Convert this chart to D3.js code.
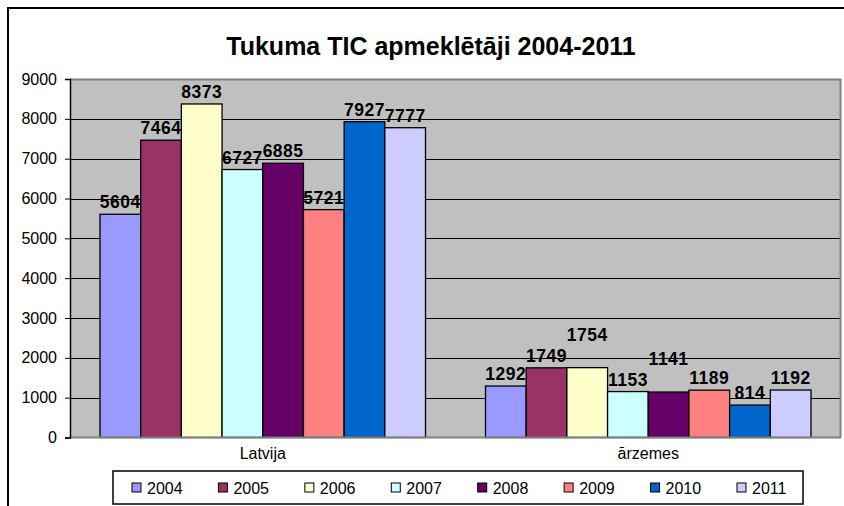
<!DOCTYPE html>
<html>
<head>
<meta charset="utf-8">
<script src="https://cdn.jsdelivr.net/npm/d3@7"></script>
<style>
  html, body { margin: 0; padding: 0; background: #fff; }
  svg { display: block; }
  text { font-family: "Liberation Sans", Arial, sans-serif; }
</style>
</head>
<body>
<svg id="chart" width="844" height="506"></svg>
<script>
const title = "Tukuma TIC apmeklētāji 2004-2011";
const categories = ["Latvija", "ārzemes"];
const years = ["2004", "2005", "2006", "2007", "2008", "2009", "2010", "2011"];
const latvijaValues = [5604, 7464, 8373, 6727, 6885, 5721, 7927, 7777];
const arzemesValues = [1292, 1749, 1754, 1153, 1141, 1189, 814, 1192];
const yTicks = [0, 1000, 2000, 3000, 4000, 5000, 6000, 7000, 8000, 9000];
const colors = ["#9999FF", "#993366", "#FFFFCC", "#CCFFFF", "#660066", "#FF8080", "#0066CC", "#CCCCFF"];

const seriesByCategory = [latvijaValues, arzemesValues];

const svg = d3.select("#chart");

// outer chart frame
svg.append("rect")
  .attr("x", 8).attr("y", 8).attr("width", 860).attr("height", 520)
  .attr("fill", "#fff").attr("stroke", "#000").attr("stroke-width", 2);

const plot = { left: 70, right: 841, top: 79, bottom: 437.5 };

const x0 = d3.scaleBand().domain(categories)
  .range([plot.left, plot.right]).paddingInner(0.1556).paddingOuter(0.0778);
const x1 = d3.scaleBand().domain(years).range([0, x0.bandwidth()]).padding(0);
const y = d3.scaleLinear().domain([0, 9000]).range([plot.bottom, plot.top]);

// plot background
svg.append("rect")
  .attr("x", plot.left).attr("y", plot.top)
  .attr("width", plot.right - plot.left).attr("height", plot.bottom - plot.top)
  .attr("fill", "#C0C0C0");

// gridlines
svg.append("g").selectAll("line").data(yTicks.filter(d => d > 0 && d < 9000)).join("line")
  .attr("x1", plot.left).attr("x2", plot.right)
  .attr("y1", d => Math.round(y(d)) + 0.5).attr("y2", d => Math.round(y(d)) + 0.5)
  .attr("stroke", "#000").attr("stroke-width", 1);

// plot border top/right
svg.append("path")
  .attr("d", `M${plot.left},${plot.top + 0.5}H${plot.right - 0.5}V${plot.bottom}`)
  .attr("fill", "none").attr("stroke", "#808080").attr("stroke-width", 2);

// bars
const groups = svg.append("g").selectAll("g").data(categories).join("g")
  .attr("transform", d => `translate(${x0(d)},0)`);

groups.selectAll("rect").data((c, i) => years.map((yr, j) => ({ yr, j, v: seriesByCategory[i][j] })))
  .join("rect")
  .attr("x", d => x1(d.yr))
  .attr("y", d => y(d.v))
  .attr("width", x1.bandwidth())
  .attr("height", d => plot.bottom - y(d.v))
  .attr("fill", d => colors[d.j])
  .attr("stroke", "#000").attr("stroke-width", 1.3);

// baseline
svg.append("line")
  .attr("x1", plot.left).attr("x2", plot.right)
  .attr("y1", plot.bottom).attr("y2", plot.bottom)
  .attr("stroke", "#808080").attr("stroke-width", 2);

// data labels: lift a label only when it would sit level with its left neighbour
const labelLayer = svg.append("g");
categories.forEach((c, i) => {
  let prev = null;
  years.forEach((yr, j) => {
    const v = seriesByCategory[i][j];
    const cx = x0(c) + x1(yr) + x1.bandwidth() / 2;
    let base = y(v) - 6;
    const t = labelLayer.append("text")
      .attr("x", cx)
      .attr("y", base)
      .attr("text-anchor", "middle")
      .attr("font-size", 17.5)
      .attr("font-weight", "bold")
      .attr("letter-spacing", 0.5)
      .attr("fill", "#000")
      .text(v);
    let bb = t.node().getBBox();
    if (prev) {
      const hGap = bb.x - (prev.bb.x + prev.bb.width);
      if (hGap < 3 && Math.abs(base - prev.base) < 5) {
        base = prev.bb.y - 1 - (bb.y + bb.height - base);
        t.attr("y", base);
        bb = t.node().getBBox();
      }
    }
    prev = { bb, base };
  });
});

// y axis
const yAxis = d3.axisLeft(y).tickValues(yTicks).tickSize(5).tickPadding(8).tickFormat(d3.format("d"));
const ya = svg.append("g").attr("transform", `translate(${plot.left},0)`).call(yAxis);
ya.select(".domain").attr("stroke", "#000").attr("stroke-width", 1.5);
ya.selectAll(".tick line").attr("stroke", "#000");
ya.selectAll(".tick text").attr("font-size", 16).attr("fill", "#000")
  .attr("font-family", "Liberation Sans, Arial, sans-serif");

// x axis labels
const xAxis = d3.axisBottom(x0).tickSize(0).tickPadding(10);
const xa = svg.append("g").attr("transform", `translate(0,${plot.bottom})`).call(xAxis);
xa.select(".domain").remove();
xa.selectAll(".tick text").attr("font-size", 16).attr("fill", "#000")
  .attr("font-family", "Liberation Sans, Arial, sans-serif");

// title
svg.append("text")
  .attr("x", 431).attr("y", 55)
  .attr("text-anchor", "middle")
  .attr("font-size", 25).attr("font-weight", "bold")
  .text(title);

// legend
const legend = { x: 113, y: 471, w: 690, h: 33 };
svg.append("rect")
  .attr("x", legend.x).attr("y", legend.y).attr("width", legend.w).attr("height", legend.h)
  .attr("fill", "#fff").attr("stroke", "#000").attr("stroke-width", 1.5);

const lx = d3.scalePoint().domain(years).range([132, 737]);
const li = svg.append("g").selectAll("g").data(years).join("g")
  .attr("transform", d => `translate(${lx(d)},${legend.y + legend.h / 2})`);
li.append("rect")
  .attr("x", 0).attr("y", -4.5).attr("width", 9).attr("height", 9)
  .attr("fill", (d, i) => colors[i]).attr("stroke", "#000").attr("stroke-width", 1);
li.append("text")
  .attr("x", 15).attr("y", 6)
  .attr("font-size", 16).attr("fill", "#000")
  .text(d => d);
</script>
</body>
</html>
